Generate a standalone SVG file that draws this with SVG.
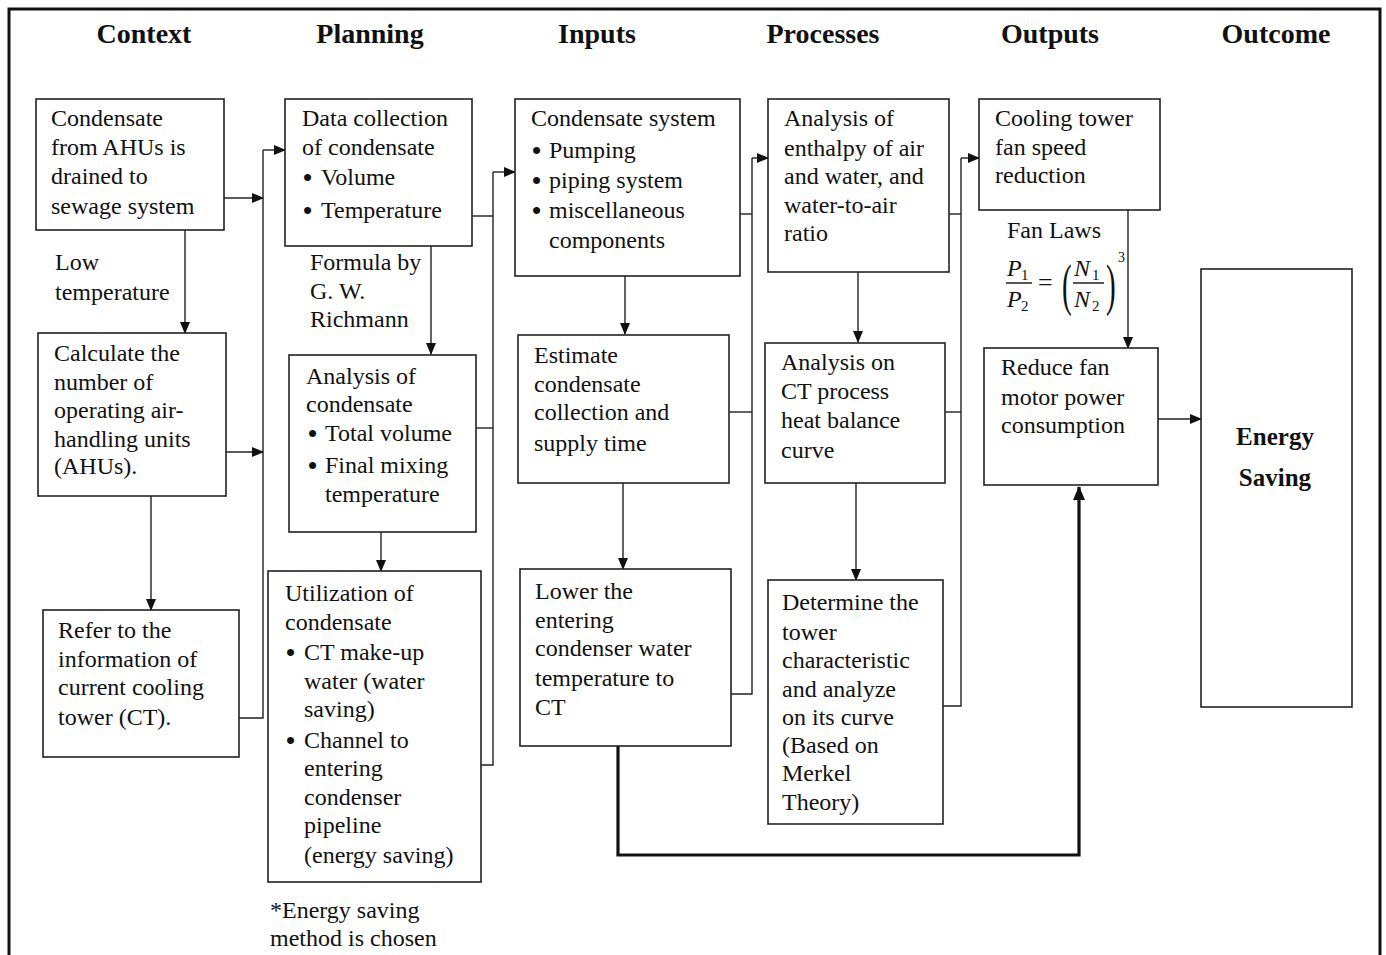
<svg xmlns="http://www.w3.org/2000/svg" width="1386" height="955" viewBox="0 0 1386 955">
<defs>
<marker id="ah" markerUnits="userSpaceOnUse" markerWidth="12" markerHeight="10" refX="11" refY="5" orient="auto">
<path d="M0,0 L12,5 L0,10 z" fill="#111"/>
</marker>
<marker id="ahb" markerUnits="userSpaceOnUse" markerWidth="14" markerHeight="12" refX="13" refY="6" orient="auto">
<path d="M0,0 L14,6 L0,12 z" fill="#111"/>
</marker>
</defs>
<style>
.box{fill:#fff;stroke:#222;stroke-width:1.6}
.t{font-family:"Liberation Serif","Times New Roman",serif;font-size:24px;fill:#111}
.bu{font-family:"Liberation Serif","Times New Roman",serif;font-size:26px;font-weight:bold;fill:#111}
.h{font-family:"Liberation Serif","Times New Roman",serif;font-size:28px;font-weight:bold;fill:#111;text-anchor:middle}
.b{font-family:"Liberation Serif","Times New Roman",serif;font-size:25px;font-weight:bold;fill:#111;text-anchor:middle}
.c{fill:none;stroke:#222;stroke-width:1.4}
.ca{fill:none;stroke:#222;stroke-width:1.4;marker-end:url(#ah)}
.m{font-family:"Liberation Serif","Times New Roman",serif;font-style:italic;fill:#111}
.s{font-family:"Liberation Serif","Times New Roman",serif;fill:#111}
</style>
<rect width="1386" height="955" fill="#fff"/>
<path d="M9,960 V9 H1380 V960" fill="none" stroke="#111" stroke-width="3"/>

<g id="headers">
<text class="h" x="144" y="43">Context</text>
<text class="h" x="370" y="43">Planning</text>
<text class="h" x="597" y="43">Inputs</text>
<text class="h" x="823" y="43">Processes</text>
<text class="h" x="1050" y="43">Outputs</text>
<text class="h" x="1276" y="43">Outcome</text>
</g>

<g id="connectors">
<line class="ca" x1="185" y1="230" x2="185" y2="333"/>
<line class="ca" x1="151" y1="496" x2="151" y2="610"/>
<line class="ca" x1="224" y1="198" x2="263" y2="198"/>
<line class="ca" x1="226" y1="452" x2="263" y2="452"/>
<polyline class="c" points="239,718 263,718 263,150"/>
<line class="ca" x1="263" y1="150" x2="285" y2="150"/>
<line class="ca" x1="431" y1="246" x2="431" y2="354"/>
<line class="ca" x1="381" y1="532" x2="381" y2="571"/>
<line class="c" x1="472" y1="216" x2="493" y2="216"/>
<line class="c" x1="476" y1="428" x2="493" y2="428"/>
<polyline class="c" points="481,765 493,765 493,172"/>
<line class="ca" x1="493" y1="172" x2="515" y2="172"/>
<line class="ca" x1="625" y1="276" x2="625" y2="334"/>
<line class="ca" x1="623" y1="483" x2="623" y2="569"/>
<line class="c" x1="740" y1="214" x2="752" y2="214"/>
<line class="c" x1="729" y1="412" x2="752" y2="412"/>
<polyline class="c" points="731,694 752,694 752,158"/>
<line class="ca" x1="752" y1="158" x2="768" y2="158"/>
<line class="ca" x1="858" y1="272" x2="858" y2="342"/>
<line class="ca" x1="856" y1="483" x2="856" y2="580"/>
<line class="c" x1="949" y1="214" x2="961" y2="214"/>
<line class="c" x1="945" y1="412" x2="961" y2="412"/>
<polyline class="c" points="943,706 961,706 961,158"/>
<line class="ca" x1="961" y1="158" x2="979" y2="158"/>
<line class="ca" x1="1128" y1="210" x2="1128" y2="348"/>
<line class="ca" x1="1158" y1="419" x2="1201" y2="419"/>
<polyline points="618,746 618,855 1079,855 1079,487" fill="none" stroke="#111" stroke-width="3.2" marker-end="url(#ahb)"/>
</g>

<g id="n-condensate-drained">
<rect class="box" x="36" y="99" width="188" height="131"/>
<text class="t" x="51" y="126">Condensate</text>
<text class="t" x="51" y="155">from AHUs is</text>
<text class="t" x="51" y="184">drained to</text>
<text class="t" x="51" y="214">sewage system</text>
</g>
<g id="l-low-temp">
<text class="t" x="55" y="270">Low</text>
<text class="t" x="55" y="300">temperature</text>
</g>
<g id="n-calc-ahu">
<rect class="box" x="38" y="333" width="188" height="163"/>
<text class="t" x="54" y="361">Calculate the</text>
<text class="t" x="54" y="390">number of</text>
<text class="t" x="54" y="418">operating air-</text>
<text class="t" x="54" y="447">handling units</text>
<text class="t" x="54" y="474">(AHUs).</text>
</g>
<g id="n-refer-ct">
<rect class="box" x="43" y="610" width="196" height="147"/>
<text class="t" x="58" y="638">Refer to the</text>
<text class="t" x="58" y="667">information of</text>
<text class="t" x="58" y="695">current cooling</text>
<text class="t" x="58" y="725">tower (CT).</text>
</g>

<g id="n-data-collection">
<rect class="box" x="285" y="99" width="187" height="147"/>
<text class="t" x="302" y="126">Data collection</text>
<text class="t" x="302" y="155">of condensate</text>
<text class="bu" x="303" y="186">•</text><text class="t" x="321" y="185">Volume</text>
<text class="bu" x="303" y="219">•</text><text class="t" x="321" y="218">Temperature</text>
</g>
<g id="l-formula">
<text class="t" x="310" y="270">Formula by</text>
<text class="t" x="310" y="299">G. W.</text>
<text class="t" x="310" y="327">Richmann</text>
</g>
<g id="n-analysis-condensate">
<rect class="box" x="289" y="355" width="187" height="177"/>
<text class="t" x="306" y="384">Analysis of</text>
<text class="t" x="306" y="412">condensate</text>
<text class="bu" x="308" y="442">•</text><text class="t" x="325" y="441">Total volume</text>
<text class="bu" x="308" y="474">•</text><text class="t" x="325" y="473">Final mixing</text>
<text class="t" x="325" y="502">temperature</text>
</g>
<g id="n-utilization">
<rect class="box" x="268" y="571" width="213" height="311"/>
<text class="t" x="285" y="601">Utilization of</text>
<text class="t" x="285" y="630">condensate</text>
<text class="bu" x="286" y="661">•</text><text class="t" x="304" y="660">CT make-up</text>
<text class="t" x="304" y="689">water (water</text>
<text class="t" x="304" y="717">saving)</text>
<text class="bu" x="286" y="749">•</text><text class="t" x="304" y="748">Channel to</text>
<text class="t" x="304" y="776">entering</text>
<text class="t" x="304" y="805">condenser</text>
<text class="t" x="304" y="833">pipeline</text>
<text class="t" x="304" y="863">(energy saving)</text>
</g>
<g id="l-energy-note">
<text class="t" x="270" y="918">*Energy saving</text>
<text class="t" x="270" y="946">method is chosen</text>
</g>

<g id="n-condensate-system">
<rect class="box" x="515" y="99" width="225" height="177"/>
<text class="t" x="531" y="126">Condensate system</text>
<text class="bu" x="532" y="159">•</text><text class="t" x="549" y="158">Pumping</text>
<text class="bu" x="532" y="189">•</text><text class="t" x="549" y="188">piping system</text>
<text class="bu" x="532" y="219">•</text><text class="t" x="549" y="218">miscellaneous</text>
<text class="t" x="549" y="248">components</text>
</g>
<g id="n-estimate">
<rect class="box" x="518" y="335" width="211" height="148"/>
<text class="t" x="534" y="363">Estimate</text>
<text class="t" x="534" y="392">condensate</text>
<text class="t" x="534" y="420">collection and</text>
<text class="t" x="534" y="451">supply time</text>
</g>
<g id="n-lower">
<rect class="box" x="520" y="569" width="211" height="177"/>
<text class="t" x="535" y="599">Lower the</text>
<text class="t" x="535" y="628">entering</text>
<text class="t" x="535" y="656">condenser water</text>
<text class="t" x="535" y="686">temperature to</text>
<text class="t" x="535" y="715">CT</text>
</g>

<g id="n-enthalpy">
<rect class="box" x="768" y="99" width="181" height="173"/>
<text class="t" x="784" y="126">Analysis of</text>
<text class="t" x="784" y="156">enthalpy of air</text>
<text class="t" x="784" y="184">and water, and</text>
<text class="t" x="784" y="213">water-to-air</text>
<text class="t" x="784" y="241">ratio</text>
</g>
<g id="n-heat-balance">
<rect class="box" x="765" y="343" width="180" height="140"/>
<text class="t" x="781" y="370">Analysis on</text>
<text class="t" x="781" y="399">CT process</text>
<text class="t" x="781" y="428">heat balance</text>
<text class="t" x="781" y="458">curve</text>
</g>
<g id="n-tower-char">
<rect class="box" x="768" y="580" width="175" height="244"/>
<text class="t" x="782" y="610">Determine the</text>
<text class="t" x="782" y="640">tower</text>
<text class="t" x="782" y="668">characteristic</text>
<text class="t" x="782" y="697">and analyze</text>
<text class="t" x="782" y="725">on its curve</text>
<text class="t" x="782" y="753">(Based on</text>
<text class="t" x="782" y="781">Merkel</text>
<text class="t" x="782" y="810">Theory)</text>
</g>

<g id="n-fan-speed">
<rect class="box" x="979" y="99" width="181" height="111"/>
<text class="t" x="995" y="126">Cooling tower</text>
<text class="t" x="995" y="155">fan speed</text>
<text class="t" x="995" y="183">reduction</text>
</g>
<g id="l-fan-laws">
<text class="t" x="1007" y="238">Fan Laws</text>
<text class="m" x="1007" y="276" font-size="24">P</text><text class="s" x="1021" y="280" font-size="15">1</text>
<line x1="1006" y1="283" x2="1032" y2="283" stroke="#111" stroke-width="1.4"/>
<text class="m" x="1007" y="307" font-size="24">P</text><text class="s" x="1021" y="311" font-size="15">2</text>
<text class="s" x="1038" y="291" font-size="26">=</text>
<text class="s" font-size="58" transform="translate(1062,304) scale(0.5,1)">(</text>
<text class="m" x="1074" y="276" font-size="24">N</text><text class="s" x="1092" y="280" font-size="15">1</text>
<line x1="1073" y1="283" x2="1104" y2="283" stroke="#111" stroke-width="1.4"/>
<text class="m" x="1074" y="307" font-size="24">N</text><text class="s" x="1092" y="311" font-size="15">2</text>
<text class="s" font-size="58" transform="translate(1106,304) scale(0.5,1)">)</text>
<text class="s" x="1118" y="262" font-size="14">3</text>
</g>
<g id="n-reduce-fan">
<rect class="box" x="984" y="348" width="174" height="137"/>
<text class="t" x="1001" y="375">Reduce fan</text>
<text class="t" x="1001" y="405">motor power</text>
<text class="t" x="1001" y="433">consumption</text>
</g>

<g id="n-energy-saving">
<rect class="box" x="1201" y="269" width="151" height="438"/>
<text class="b" x="1275" y="445">Energy</text>
<text class="b" x="1275" y="486">Saving</text>
</g>
</svg>
